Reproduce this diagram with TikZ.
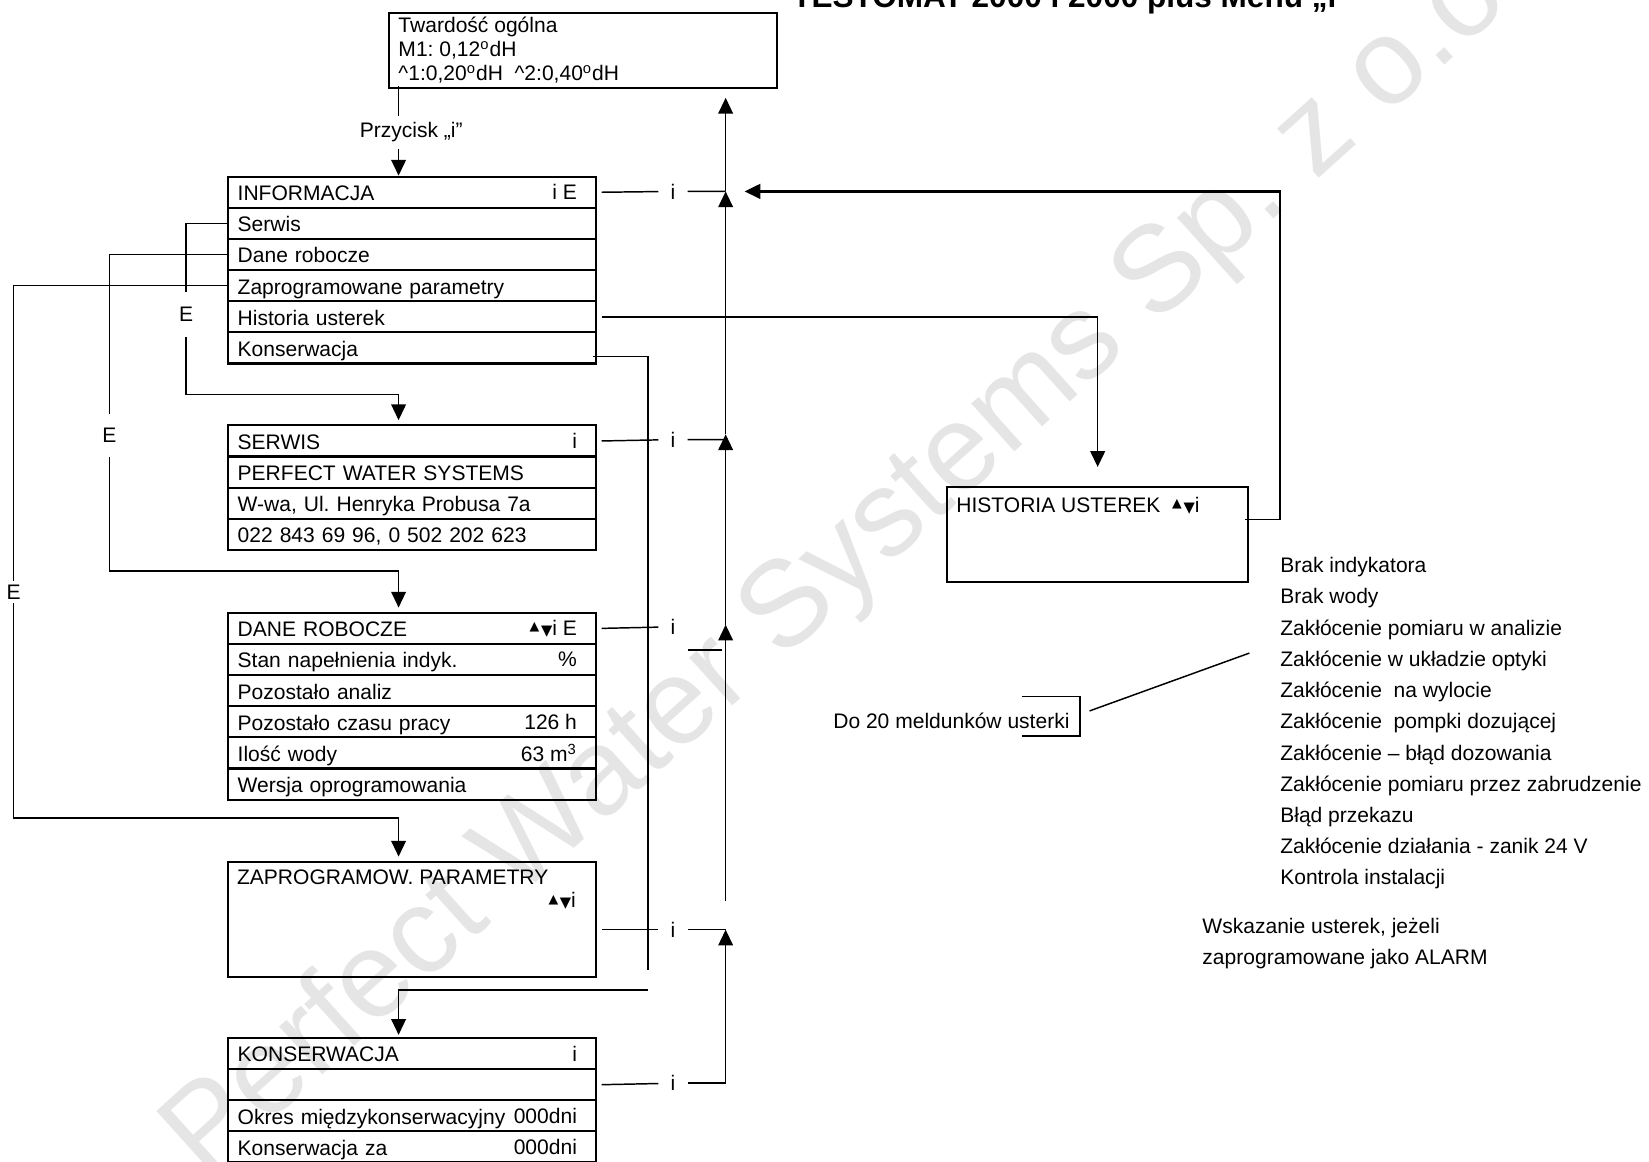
\documentclass[tikz,border=0pt]{standalone}
\usepackage{fontspec}
\setmainfont{Liberation Sans}
\newfontfamily\kSym{DejaVu Sans}
\usetikzlibrary{arrows.meta,positioning}
\frenchspacing
\newcommand{\kUpDn}{{\kSym\fontsize{6}{6}\selectfont\raisebox{2pt}{▲}\hspace{0.8pt}\fontsize{7}{7}\selectfont▼}}

\tikzset{
  box/.style={draw,line width=1pt},
  cell/.style={box,anchor=north west,minimum height=14.8pt,text width=166pt,
    inner xsep=4.5pt,inner ysep=0pt,align=left,text height=8.5pt,text depth=.5pt},
  rtext/.style={anchor=east,inner sep=0pt,xshift=-9.5pt},
  wire/.style={line width=.7pt},
  arr/.style={wire,-{Triangle[length=7.5pt,width=7pt]},shorten >=2pt},
  uparr/.style={arr,shorten >=0pt},
  ilab/.style={minimum width=13.5pt,inner sep=0pt},
  elab/.style={minimum height=#1,inner sep=0pt},
  plain/.style={anchor=base west,inner sep=0pt}
}

\begin{document}
\begin{tikzpicture}[x=0.5pt,y=-0.5pt]
  \definecolor{kMark}{rgb}{0.9,0.9,0.9}
  \useasboundingbox (0,0) rectangle (1568,1104);
  \clip (0,0) rectangle (1568,1104);

  \node[rotate=42,anchor=base east,inner sep=0pt,text=kMark,font=\fontsize{58}{58}\selectfont] (mark) at (1462,-18) {Perfect Water Systems Sp. z o.o.};

  \node[plain,font=\bfseries\fontsize{15}{15}\selectfont] (title) at (753,7) {TESTOMAT 2000 i 2000 plus Menu „i”};

  \node[box,anchor=north west,minimum width=184.5pt,minimum height=35.75pt] (tw) at (369,11) {};
  \foreach \t [count=\k] in {Twardość ogólna,{M1: 0,12\textsuperscript{o}dH},{\textasciicircum1:0,20\textsuperscript{o}dH\ \ \textasciicircum2:0,40\textsuperscript{o}dH}}
    \node[plain] (tw\k) at (378.5,{31+23*(\k-1)}) {\t};
  \node[elab=15pt] (pz) at (391,126) {Przycisk „i”};

  \foreach \t/\r [count=\k] in {INFORMACJA/i E,Serwis/,Dane robocze/,Zaprogramowane parametry/,Historia usterek/,Konserwacja/}
    \node[cell,label={[rtext]east:\r}] (inf\k) at (216,{167+29.6*(\k-1)}) {\t};

  \foreach \t/\r [count=\k] in {SERWIS/i,PERFECT WATER SYSTEMS/,{W-wa, Ul. Henryka Probusa 7a}/,{022 843 69 96, 0 502 202 623}/}
    \node[cell,label={[rtext]east:\r}] (ser\k) at (216,{403.5+29.6*(\k-1)}) {\t};

  \foreach \t/\r [count=\k] in {DANE ROBOCZE/\kUpDn i E,Stan napełnienia indyk./\%,Pozostało analiz/,Pozostało czasu pracy/126 h,Ilość wody/63 m\textsuperscript{3},Wersja oprogramowania/}
    \node[cell,label={[rtext]east:\r}] (dan\k) at (216,{581.7+29.6*(\k-1)}) {\t};

  \node[box,anchor=north west,minimum width=175pt,minimum height=54.75pt] (zap) at (216,818.5) {};
  \node[plain] (zapt) at (225,841) {ZAPROGRAMOW. PARAMETRY};
  \node[anchor=base east,inner sep=0pt] (zapk) at (548,863) {\kUpDn i};

  \foreach \t/\r [count=\k] in {KONSERWACJA/i,/,Okres międzykonserwacyjny/000dni,Konserwacja za/000dni}
    \node[cell,label={[rtext]east:\r}] (kon\k) at (216,{986+29.6*(\k-1)}) {\t};

  \node[box,anchor=north west,minimum width=143.25pt,minimum height=45pt] (hist) at (899.5,462) {};
  \node[plain] (histt) at (909,487) {HISTORIA USTEREK\ \ \kUpDn i};

  \foreach \n/\x/\y in {iI/640/182,iS/640/418,iD/640/596,iZ/640/884,iK/640/1030}
    \node[ilab] (\n) at (\x,\y) {i};

  \node[elab=21pt] (eS) at (177,299) {E};
  \node[elab=20pt] (eD) at (104,414) {E};
  \node[elab=10pt] (eZ) at (13,563) {E};

  \foreach \t [count=\k] in {Brak indykatora,Brak wody,Zakłócenie pomiaru w analizie,Zakłócenie w układzie optyki,Zakłócenie\ \ na wylocie,Zakłócenie\ \ pompki dozującej,Zakłócenie – błąd dozowania,Zakłócenie pomiaru przez zabrudzenie,Błąd przekazu,Zakłócenie działania - zanik 24 V,Kontrola instalacji}
    \node[plain] (err\k) at (1217,{544.5+29.7*(\k-1)}) {\t};
  \node[plain] (alarm1) at (1143,888) {Wskazanie usterek, jeżeli};
  \node[plain] (alarm2) at (1143,917) {zaprogramowane jako ALARM};
  \node[plain] (do20) at (792,692.5) {Do 20 meldunków usterki};

  \coordinate (aT) at (379,82);
  \coordinate (up0) at (690,93);
  \coordinate (upI) at (690,182);
  \coordinate (upS) at (690,413);
  \coordinate (upD) at (690,594);
  \coordinate (upZ) at (690,884);
  \coordinate (upZt) at (690,857);
  \coordinate (tipI) at (708,182);
  \coordinate (hk) at (1217,494);
  \coordinate (aS) at (379,375);
  \coordinate (aD) at (379,543);
  \coordinate (aZ) at (379,778);
  \coordinate (aK) at (379,941.5);
  \coordinate (kv) at (616,922);
  \coordinate (kh) at (616,941.5);
  \coordinate (br) at (1027,662.5);
  \coordinate (dgA) at (1036,676);
  \coordinate (dgB) at (1188,621);

  \draw[wire] (aT) -- (aT |- pz.north);
  \draw[uparr] (aT |- pz.south) -- (aT |- inf1.north);

  \draw[wire] (inf2.west) -| (eS);
  \draw[arr] (eS) |- (aS) -- (aS |- ser1.north);
  \draw[wire] (inf3.west) -| (eD);
  \draw[arr] (eD) |- (aD) -- (aD |- dan1.north);
  \draw[wire] (inf4.west) -| (eZ);
  \draw[arr] (eZ) |- (aZ) -- (aZ |- zap.north);

  \draw[wire] ([shift={(-2pt,-4pt)}]inf6.east) -| (kv);
  \draw[arr,shorten >=1pt] (kh) -- (aK) -- (aK |- kon1.north);
  \draw[arr] ([xshift=2pt]inf5.east) -| ([yshift=7pt]hist.north);

  \draw[wire] ([xshift=2pt]inf1.east) -- (iI) -- (iI -| upI);
  \draw[wire] ([xshift=2pt]ser1.east) -- (iS) -- (iS -| upS);
  \draw[wire] ([xshift=2pt]dan1.east) -- (iD);
  \draw[wire] ([yshift=-11pt]iD.east) -- ++(33,0);
  \draw[wire] ([xshift=2pt]zap.east |- iZ) -- (iZ) -- (iZ -| upZ);
  \draw[wire] ([xshift=2pt]kon2.east) -- (iK);
  \draw[uparr] (iK) -| (upZ);

  \foreach \a/\b in {upI/up0,upS/upI,upD/upS,upZt/upD}
    \draw[uparr] (\a) -- (\b);

  \draw[wire] ([xshift=-2pt]hist.east |- hk) -- (hk);
  \draw[uparr,line width=1.1pt] (hk) |- (tipI);

  \draw[wire] (br) ++(-55,0) -- (br) -- ++(0,37.5) -- ++(-55,0);
  \draw[wire] (dgA) -- (dgB);
\end{tikzpicture}
\end{document}
